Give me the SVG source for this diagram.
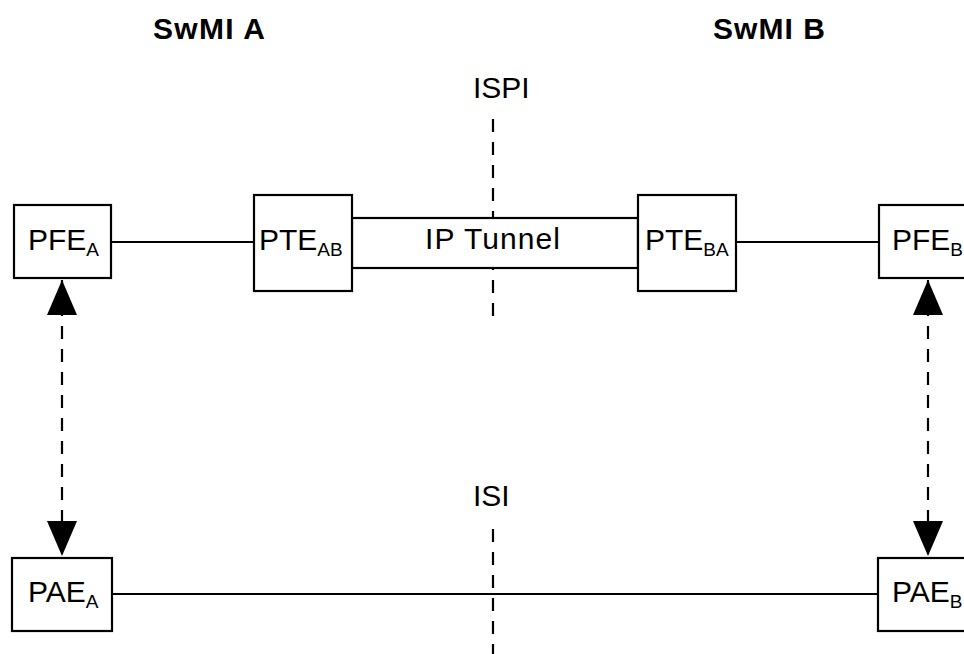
<svg xmlns="http://www.w3.org/2000/svg" width="964" height="654" viewBox="0 0 964 654">
<defs>
<style>
text{font-family:"Liberation Sans",Arial,sans-serif;fill:#000}
.t{font-size:30px}
.s{font-size:19px}
.h{font-size:30px;font-weight:bold}
.box{fill:#fff;stroke:#000;stroke-width:2.2}
.ln{stroke:#000;stroke-width:2.2;fill:none}
.dash{stroke:#000;stroke-width:2.2;fill:none;stroke-dasharray:13 10}
</style>
<marker id="ah" viewBox="0 0 35 30" refX="35" refY="15" markerWidth="35" markerHeight="30" markerUnits="userSpaceOnUse" orient="auto-start-reverse">
<path d="M0,0 L35,15 L0,30 Z" fill="#000"/>
</marker>
</defs>
<rect width="964" height="654" fill="#fff"/>
<g id="labels">
<text class="h" x="153" y="39" textLength="112" lengthAdjust="spacing">SwMI A</text>
<text class="h" x="713" y="39" textLength="112" lengthAdjust="spacing">SwMI B</text>
<text class="t" x="473" y="98">ISPI</text>
<text class="t" x="473" y="506">ISI</text>
</g>
<g id="interfaces">
<line class="dash" x1="493" y1="119" x2="493" y2="326"/>
<line class="dash" x1="493" y1="529" x2="493" y2="654"/>
</g>
<g id="connectors">
<line class="ln" x1="111" y1="242" x2="254" y2="242"/>
<line class="ln" x1="736" y1="242" x2="879" y2="242"/>
<line class="ln" x1="112" y1="594" x2="878" y2="594"/>
<line class="dash" x1="62" y1="280" x2="62" y2="556" marker-start="url(#ah)" marker-end="url(#ah)"/>
<line class="dash" x1="928" y1="280" x2="928" y2="556" marker-start="url(#ah)" marker-end="url(#ah)"/>
</g>
<g id="tunnel">
<rect x="352" y="218" width="286" height="50" class="box"/>
<text class="t" x="425" y="249" textLength="135" lengthAdjust="spacing">IP Tunnel</text>
</g>
<g id="PFE_A">
<rect class="box" x="14" y="205" width="97" height="73"/>
<text class="t" x="28" y="250">PFE<tspan class="s" dy="6">A</tspan></text>
</g>
<g id="PTE_AB">
<rect class="box" x="254" y="195" width="98" height="96"/>
<text class="t" x="259" y="250">PTE<tspan class="s" dy="6">AB</tspan></text>
</g>
<g id="PTE_BA">
<rect class="box" x="638" y="195" width="98" height="96"/>
<text class="t" x="645" y="250">PTE<tspan class="s" dy="6">BA</tspan></text>
</g>
<g id="PFE_B">
<rect class="box" x="879" y="205" width="97" height="73"/>
<text class="t" x="892" y="250">PFE<tspan class="s" dy="6">B</tspan></text>
</g>
<g id="PAE_A">
<rect class="box" x="12" y="558" width="100" height="73"/>
<text class="t" x="28" y="602">PAE<tspan class="s" dy="6">A</tspan></text>
</g>
<g id="PAE_B">
<rect class="box" x="878" y="558" width="100" height="73"/>
<text class="t" x="892" y="602">PAE<tspan class="s" dy="6">B</tspan></text>
</g>
</svg>
